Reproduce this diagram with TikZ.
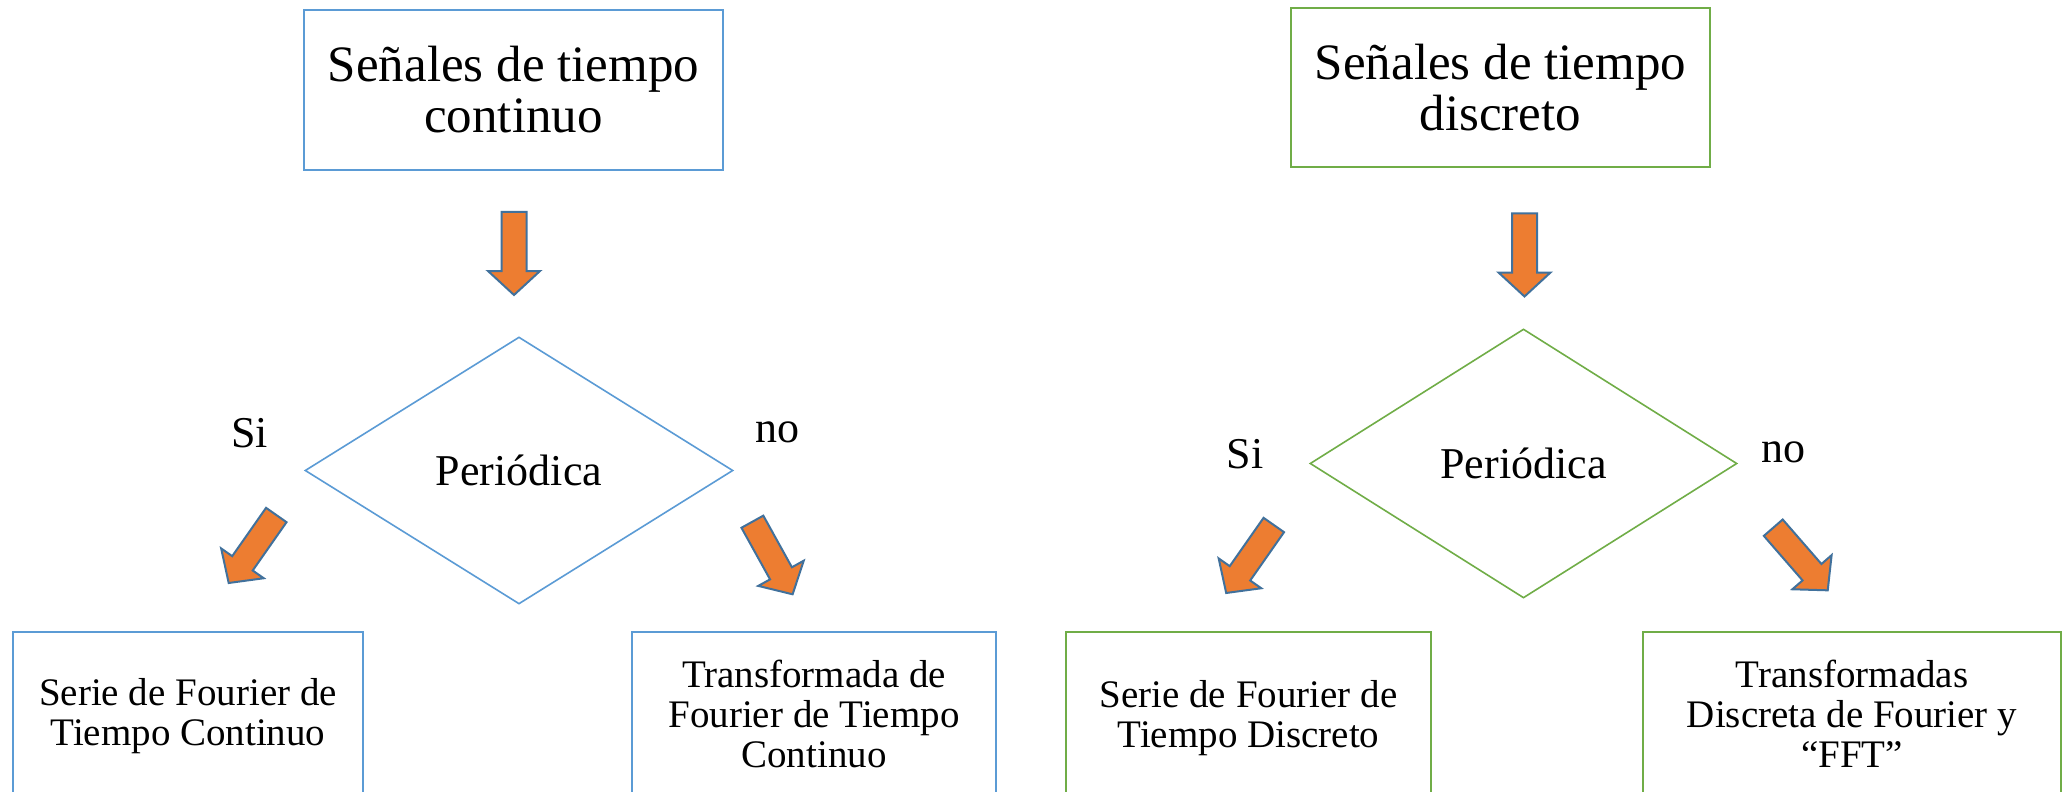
\documentclass[tikz,border=0pt]{standalone}
\usepackage{fontspec}
\setmainfont{Liberation Serif}
\usetikzlibrary{shapes,positioning}
\definecolor{azul}{HTML}{5B9BD5}
\definecolor{verde}{HTML}{70AD47}
\definecolor{naranja}{HTML}{ED7D31}
\definecolor{bordeflecha}{HTML}{41719C}
\newcommand{\fuentetitulo}{\fontsize{25.5pt}{25.5pt}\selectfont}
\newcommand{\fuentecaja}{\fontsize{19.5pt}{20pt}\selectfont}
\newcommand{\fuentediag}{\fontsize{22pt}{24pt}\selectfont}
\tikzset{
block/.style = {draw, fill=white, rectangle, line width=1pt, align=center, inner sep=0pt, font=\fuentecaja},
top/.style = {block, font=\fuentetitulo},
decision/.style = {draw, fill=white, diamond, line width=0.8pt, inner sep=0pt, font=\fuentediag},
cont/.style = {draw=azul},
disc/.style = {draw=verde},
txt/.style = {anchor=base, inner sep=0pt, font=\fuentediag},
flecha/.pic = {
  \draw [fill=naranja, draw=bordeflecha, line width=1pt, line join=miter]
    (-41.5,-12.5) -- (17.5,-12.5) -- (17.5,-26) -- (41.5,0) -- (17.5,26) -- (17.5,12.5) -- (-41.5,12.5) -- cycle;
}
}
\begin{document}
\begin{tikzpicture}[x=0.5pt, y=-0.5pt]
  \useasboundingbox (0,0) rectangle (2063,792);

  % tiempo continuo
  \node [top, cont, minimum width=209.5pt, minimum height=80pt]   (ctop)   at (513.5,90)   {Señales de tiempo\\continuo};
  \node [decision, cont, minimum width=214pt, minimum height=133.5pt] (cper) at (519,470.5) {Periódica};
  \node [block, cont, minimum width=175pt, minimum height=84pt]   (cserie) at (188,716)    {Serie de Fourier de\\Tiempo Continuo};
  \node [block, cont, minimum width=182pt, minimum height=82pt]   (ctrans) at (814,714)    {Transformada de\\Fourier de Tiempo\\Continuo};
  \node [txt] (csi) at (249.5,447) {Si};
  \node [txt] (cno) at (777,442)   {no};

  \pic [rotate=-90] at (514,253.5)  {flecha};
  \pic [rotate=235] at (252.5,549)  {flecha};
  \pic [rotate=-61] at (772.5,558)  {flecha};

  % tiempo discreto
  \node [top, disc, minimum width=209.5pt, minimum height=79.5pt] (dtop)   at (1500.5,87.5)  {Señales de tiempo\\discreto};
  \node [decision, disc, minimum width=213.5pt, minimum height=134.5pt] (dper) at (1523.5,463.5) {Periódica};
  \node [block, disc, minimum width=182.5pt, minimum height=86pt] (dserie) at (1248.5,718)   {Serie de Fourier de\\Tiempo Discreto};
  \node [block, disc, minimum width=209pt, minimum height=82pt]   (dtrans) at (1852,714)     {Transformadas\\Discreta de Fourier y\\“FFT”};
  \node [txt] (dsi) at (1245,468)   {Si};
  \node [txt] (dno) at (1783.5,462) {no};

  \pic [rotate=-90] at (1524.5,255) {flecha};
  \pic [rotate=235] at (1250,559)   {flecha};
  \pic [rotate=-49] at (1800.5,559) {flecha};
\end{tikzpicture}
\end{document}
